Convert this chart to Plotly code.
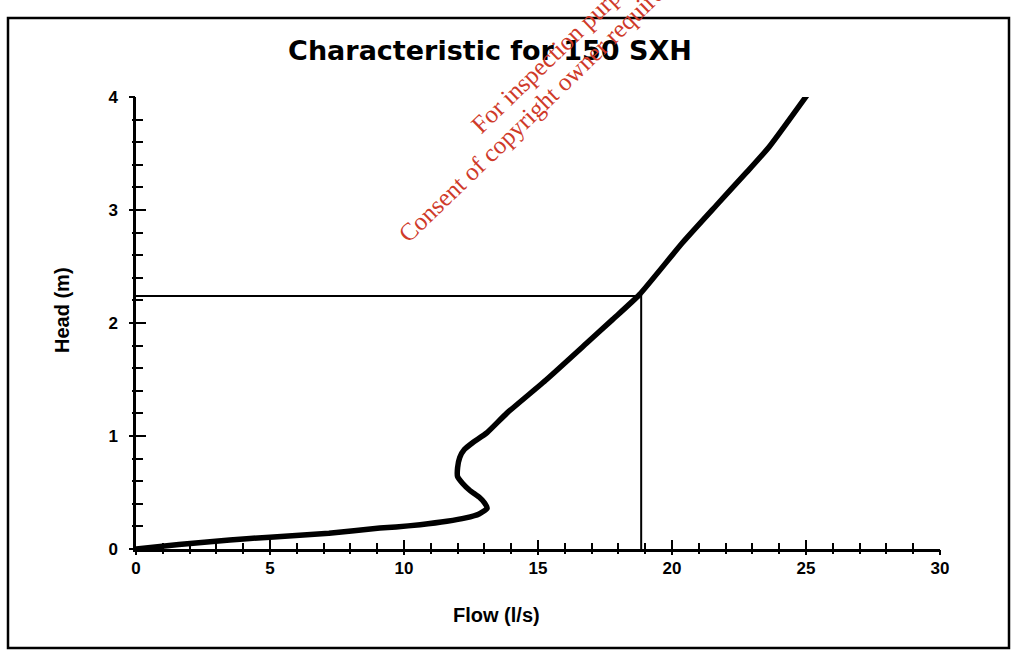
import plotly.graph_objects as go

# Pump characteristic curve
flow = [0.0, 1.6, 3.5, 5.0, 7.2, 9.1, 9.7, 10.6, 11.6, 12.3, 12.8, 13.1, 13.0, 12.8, 12.45, 12.19,
        12.0, 12.0, 12.08, 12.25, 12.56, 13.1, 13.83, 15.32, 16.81, 17.78, 18.78, 20.39, 21.65,
        22.77, 23.63, 25.05]
head = [0.0, 0.04, 0.08, 0.105, 0.14, 0.185, 0.195, 0.215, 0.245, 0.275, 0.31, 0.36, 0.41, 0.46,
        0.52, 0.58, 0.64, 0.72, 0.81, 0.88, 0.94, 1.03, 1.2, 1.5, 1.82, 2.03, 2.25, 2.71, 3.04,
        3.33, 3.56, 4.02]

# Operating point lines
op_flow = 18.85
op_head = 2.24

title_text = "Characteristic for 150 SXH"
x_title = "Flow (l/s)"
y_title = "Head (m)"
watermark_1 = "For inspection purposes only."
watermark_2 = "Consent of copyright owner required for any other use."

fig = go.Figure()
fig.add_trace(go.Scatter(x=flow, y=head, mode="lines",
                         line=dict(color="black", width=5.5, shape="spline", smoothing=0.5),
                         showlegend=False, hoverinfo="skip"))
fig.add_trace(go.Scatter(x=[0, op_flow, op_flow], y=[op_head, op_head, 0], mode="lines",
                         line=dict(color="black", width=2), showlegend=False, hoverinfo="skip"))
# invisible trace so the overlay axes (outer half of cross ticks) are drawn
fig.add_trace(go.Scatter(x=[0], y=[0], xaxis="x2", yaxis="y2", mode="markers",
                         marker=dict(opacity=0), showlegend=False, hoverinfo="skip"))

W, H = 1013, 651
L, R, T, B = 136, 73, 97, 102
pw, ph = W - L - R, H - T - B


def px(x):
    return (x - L) / pw


def py(y):
    return (H - B - y) / ph


axis_common = dict(showgrid=False, zeroline=False, fixedrange=True, tickcolor="black")
wm_font = dict(size=25, family="Liberation Serif, Times New Roman, serif", color="#cf3a2a")

fig.update_layout(
    width=W, height=H,
    margin=dict(l=L, r=R, t=T, b=B),
    paper_bgcolor="white", plot_bgcolor="white",
    font=dict(family="Liberation Sans, Arial, sans-serif", color="black"),
    title=dict(text="<b>" + title_text + "</b>", xref="container", x=490 / W, y=1 - 51 / H,
               xanchor="center", yanchor="middle",
               font=dict(size=27, color="black", family="DejaVu Sans, sans-serif")),
    xaxis=dict(range=[0, 30], dtick=5, showline=True, linecolor="black", linewidth=2.5,
               ticks="inside", ticklen=9, tickwidth=2,
               minor=dict(dtick=1, ticks="inside", ticklen=6, tickwidth=1.5, tickcolor="black"),
               tickfont=dict(size=17, weight="bold"), ticklabelstandoff=2, **axis_common),
    yaxis=dict(range=[0, 4.0], dtick=1, showline=True, linecolor="black", linewidth=2.5,
               ticks="inside", ticklen=10, tickwidth=2,
               minor=dict(dtick=0.2, ticks="inside", ticklen=7, tickwidth=1.5, tickcolor="black"),
               tickfont=dict(size=17, weight="bold"), ticklabelstandoff=12, **axis_common),
    xaxis2=dict(overlaying="x", matches="x", anchor="y", dtick=5, showline=False, showticklabels=False,
                ticks="outside", ticklen=5, tickwidth=2,
                minor=dict(dtick=1, ticks="outside", ticklen=4, tickwidth=1.5, tickcolor="black"),
                **axis_common),
    yaxis2=dict(overlaying="y", matches="y", anchor="x", dtick=1, showline=False, showticklabels=False,
                ticks="outside", ticklen=6, tickwidth=2,
                minor=dict(dtick=0.2, ticks="outside", ticklen=3, tickwidth=1.5, tickcolor="black"),
                **axis_common),
    annotations=[
        dict(text="<b>" + y_title + "</b>", xref="paper", yref="paper", x=px(62), y=py(310), textangle=-90,
             showarrow=False, font=dict(size=20), xanchor="center", yanchor="middle"),
        dict(text="<b>" + x_title + "</b>", xref="paper", yref="paper", x=px(496), y=py(615),
             showarrow=False, font=dict(size=20), xanchor="center", yanchor="middle"),
        dict(text=watermark_1, xref="paper", yref="paper", x=px(463), y=py(141), textangle=-44,
             showarrow=False, font=wm_font, xanchor="left", yanchor="bottom"),
        dict(text=watermark_2, xref="paper", yref="paper", x=px(390), y=py(250), textangle=-44,
             showarrow=False, font=wm_font, xanchor="left", yanchor="bottom"),
    ],
    shapes=[
        dict(type="rect", xref="paper", yref="paper", x0=px(8), x1=px(1009), y0=py(648), y1=py(18),
             line=dict(color="black", width=2.5), layer="below"),
    ],
)

fig.write_html("out.html", config={"displayModeBar": False},
               post_script="document.body.style.margin='0px';")
